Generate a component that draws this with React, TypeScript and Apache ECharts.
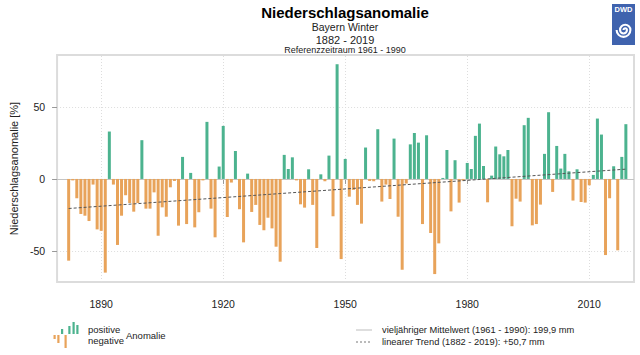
import React, { useEffect, useRef } from "react";
import * as echarts from "echarts";

const FIRST_YEAR = 1882;
const anomalies: number[] = [
  -56.7, -1, -13.4, -24.3, -25.5, -29.2, -3.9, -35, -36, -65,
  32.9, -3.9, -45.8, -25.5, -11.3, -16.7, -22.7, -16.7, 26.9, -20.6,
  -20.6, -9.3, -39.4, -19.7, -26.2, -5.8, -1.4, -32.4, 15.3, -31.3,
  4.2, -33.6, -23.1, -1, 39.6, -20.6, -40.5, 8.6, 36.8, -26.4,
  -2.5, 19.4, -21, -44, 3.7, -22.9, -18, -31.9, -35.6, -26.9,
  -34.3, -47, -57.4, 16.7, 6.9, 15, -1, -17.6, -19.9, 6.7,
  -18, -47.9, 3.2, -1.6, 16.2, -25.9, 79.6, -55.6, 13.9, -12.3,
  -7.6, -18, -31, 21.8, -1.4, -1.6, 34.5, -15.7, -3.9, -13.9,
  28, -26.2, -63, -3.2, 24, 31.9, 25.2, -31.3, 30.3, -37.5,
  -66, -44.7, 0.7, 20.1, -22.5, 13, -16.4, -1.2, 11.1, 6.9,
  29.9, 38.4, 9, -16.2, 2.3, 22.5, 17.1, 15.7, 20.1, -32.9,
  -13.7, -15.7, 37.3, 42.4, -32.2, -31.3, -17.8, 17.4, 46.3, -9,
  22.9, 7.2, 17.4, 5.3, -15, 6.7, -16, -16.4, -4.4, 2.8,
  41.9, 30.8, -52.8, -13.4, 8.8, -49.5, 15.3, 38,
];
const trendYears = [1882, 2019];
const trendValues = [-20.5, 6.8];
const xTickLabels = [1890, 1920, 1950, 1980, 2010];
const yTickLabels = [-50, 0, 50];

const GREEN = "#4CB38F";
const ORANGE = "#E8A35A";
const FONT = "'Liberation Sans', Arial, Helvetica, sans-serif";

let shapeRegistered = false;
function registerSpiral() {
  if (shapeRegistered) return;
  const d =
    "M0,0 A1.5,1.5 0 0 1 3,0 A3,3 0 0 1 -3,0 A4.5,4.5 0 0 1 6,0 A6,6 0 0 1 -6,0";
  echarts.graphic.registerShape("dwdspiral", echarts.graphic.extendPath(d, {}));
  shapeRegistered = true;
}

export default function App() {
  const ref = useRef<HTMLDivElement>(null);

  useEffect(() => {
    document.body.style.margin = "0";
    registerSpiral();
    const chart = echarts.init(ref.current!, null, { renderer: "svg" });

    const barData = anomalies.map((v, i) => [FIRST_YEAR + i, v]);
    const trendData = trendYears.map((y, i) => [y, trendValues[i]]);

    const txt = (
      x: number,
      y: number,
      text: string,
      size: number,
      opts: any = {}
    ) => ({
      type: "text",
      x,
      y,
      silent: true,
      style: {
        text,
        fill: opts.fill || "#222",
        font: `${opts.weight || "normal"} ${size}px ${FONT}`,
        textAlign: opts.align || "left",
        textVerticalAlign: "middle",
      },
    });

    const legendBars = [
      { x: 53.5, y: 335, h: 4, c: ORANGE },
      { x: 57.3, y: 335, h: 8, c: ORANGE },
      { x: 61, y: 329, h: 5, c: GREEN },
      { x: 64.5, y: 335, h: 13, c: ORANGE },
      { x: 68.3, y: 326, h: 8, c: GREEN },
      { x: 72.5, y: 322, h: 12, c: GREEN },
      { x: 76.3, y: 325, h: 9, c: GREEN },
    ].map((b) => ({
      type: "rect",
      silent: true,
      shape: { x: b.x, y: b.y, width: 2.2, height: b.h },
      style: { fill: b.c },
    }));

    chart.setOption({
      animation: false,
      backgroundColor: "#ffffff",
      grid: {
        left: 55,
        right: 6,
        top: 55,
        bottom: 73,
        show: true,
        borderColor: "#dcdcdc",
        borderWidth: 2,
        containLabel: false,
      },
      xAxis: {
        type: "value",
        min: 1879.15,
        max: 2021,
        axisLine: { show: false },
        splitLine: { show: false },
        axisTick: {
          show: true,
          length: 5,
          lineStyle: { color: "#999" },
          customValues: xTickLabels,
        },
        axisLabel: {
          customValues: xTickLabels,
          formatter: (v: number) => String(v),
          margin: 16,
          fontSize: 10.5,
          color: "#222",
          fontFamily: FONT,
        },
      },
      yAxis: {
        type: "value",
        min: -71.5,
        max: 86,
        name: "Niederschlagsanomalie [%]",
        nameLocation: "middle",
        nameGap: 37,
        nameTextStyle: { fontSize: 11, color: "#222", fontFamily: FONT },
        axisLine: { show: false },
        splitLine: { show: false },
        axisTick: {
          show: true,
          length: 5,
          lineStyle: { color: "#999" },
          customValues: yTickLabels,
        },
        axisLabel: {
          customValues: yTickLabels,
          formatter: (v: number) => String(v),
          margin: 12,
          fontSize: 10.5,
          color: "#222",
          fontFamily: FONT,
        },
      },
      series: [
        {
          type: "line",
          name: "grid",
          data: [],
          z: 0,
          silent: true,
          markLine: {
            silent: true,
            z: 0,
            symbol: "none",
            label: { show: false },
            animation: false,
            lineStyle: { type: [1, 2], color: "#dddddd", width: 1 },
            data: [
              ...xTickLabels.map((v) => ({ xAxis: v })),
              { yAxis: 50 },
              { yAxis: -50 },
            ],
          },
        },
        {
          type: "line",
          name: "mittel",
          data: [],
          z: 1,
          silent: true,
          markLine: {
            silent: true,
            z: 1,
            symbol: "none",
            label: { show: false },
            animation: false,
            lineStyle: { type: "solid", color: "#c4c4c4", width: 1.2 },
            data: [{ yAxis: 0 }],
          },
        },
        {
          type: "bar",
          name: "Anomalie",
          data: barData,
          barWidth: 3,
          z: 2,
          itemStyle: {
            color: (p: any) => (p.value[1] >= 0 ? GREEN : ORANGE),
          },
        },
        {
          type: "line",
          name: "Trend",
          data: trendData,
          z: 3,
          symbol: "none",
          lineStyle: { type: [3, 2], color: "#555", width: 1 },
        },
      ],
      graphic: [
        txt(345, 12, "Niederschlagsanomalie", 15, { weight: "bold", align: "center", fill: "#000" }),
        txt(345, 27, "Bayern Winter", 10.5, { align: "center" }),
        txt(345, 40, "1882 - 2019", 11, { align: "center" }),
        txt(345, 50, "Referenzzeitraum 1961 - 1990", 9, { align: "center" }),
        ...legendBars,
        txt(88, 329, "positive", 9.5),
        txt(88, 340, "negative", 9.5),
        txt(126, 335, "Anomalie", 9.5),
        {
          type: "line",
          silent: true,
          shape: { x1: 356, y1: 330, x2: 372, y2: 330 },
          style: { stroke: "#bdbdbd", lineWidth: 1 },
        },
        {
          type: "line",
          silent: true,
          shape: { x1: 356, y1: 342, x2: 372, y2: 342 },
          style: { stroke: "#777", lineWidth: 1, lineDash: [2, 2] },
        },
        txt(382, 330, "vieljähriger Mittelwert (1961 - 1990): 199,9 mm", 9.3),
        txt(382, 342, "linearer Trend (1882 - 2019): +50,7 mm", 9.3),
        {
          type: "rect",
          silent: true,
          shape: { x: 612, y: 4, width: 23, height: 41 },
          style: { fill: "#3F63AE" },
        },
        txt(623.5, 9.5, "DWD", 7.5, { weight: "bold", align: "center", fill: "#ffffff" }),
        {
          type: "dwdspiral",
          silent: true,
          x: 623.5,
          y: 30,
          scaleX: 1.15,
          scaleY: 1.15,
          style: { stroke: "#ffffff", fill: "none", lineWidth: 1.8 },
        },
      ],
    });

    return () => chart.dispose();
  }, []);

  return <div ref={ref} style={{ width: 640, height: 355 }} />;
}
